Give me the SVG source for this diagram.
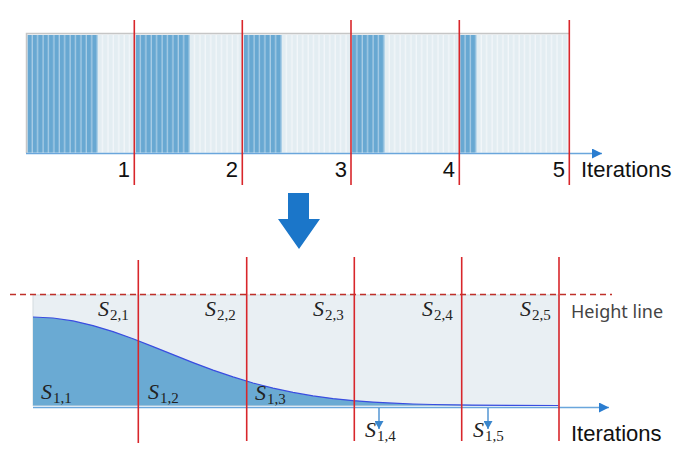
<svg xmlns="http://www.w3.org/2000/svg" width="673" height="452" viewBox="0 0 673 452">
<style>
.red{stroke:#d8262b;stroke-width:1.6;fill:none}
.axis{stroke:#6aa6dc;stroke-width:1.5;fill:none}
.num{font-family:"Liberation Sans",Arial,sans-serif;font-size:22px;fill:#111}
.s{font-family:"Liberation Serif","Times New Roman",serif;font-style:italic;font-size:22px;fill:#222}
.sub{font-style:normal;font-size:15px}
.lbl{font-family:"Noto Sans","Liberation Sans",sans-serif;font-size:18px;fill:#444}
</style>
<defs>
<pattern id="pd" patternUnits="userSpaceOnUse" x="27.5" y="0" width="5.41" height="452">
<rect x="0" y="0" width="4.1" height="452" fill="#68a8d2"/>
</pattern>
<pattern id="pl" patternUnits="userSpaceOnUse" x="27.5" y="0" width="5.41" height="452">
<rect x="0" y="0" width="4.1" height="452" fill="#e3edf2"/>
</pattern>
<marker id="ah" markerUnits="userSpaceOnUse" markerWidth="11" markerHeight="10" refX="10" refY="5" orient="auto">
<path d="M0,0 L10,5 L0,10 z" fill="#2a7dd0"/>
</marker>
<marker id="ahs" markerUnits="userSpaceOnUse" markerWidth="9" markerHeight="9" refX="8" refY="4.5" orient="auto">
<path d="M0,0 L8,4.5 L0,9 z" fill="#3a86cc"/>
</marker>
</defs>
<rect width="673" height="452" fill="#fff"/>

<g id="top-panel">
<rect x="26.5" y="33.5" width="542" height="119.5" fill="#f2f6f9"/>
<rect x="27.5" y="35" width="70.3" height="117.5" fill="#a9cde6"/>
<rect x="135.7" y="35" width="54.1" height="117.5" fill="#a9cde6"/>
<rect x="243.9" y="35" width="37.9" height="117.5" fill="#a9cde6"/>
<rect x="352.1" y="35" width="32.5" height="117.5" fill="#a9cde6"/>
<rect x="460.3" y="35" width="16.2" height="117.5" fill="#a9cde6"/>
<rect x="27.5" y="35" width="70.3" height="117.5" fill="url(#pd)"/>
<rect x="97.8" y="35" width="37.9" height="117.5" fill="url(#pl)"/>
<rect x="135.7" y="35" width="54.1" height="117.5" fill="url(#pd)"/>
<rect x="189.8" y="35" width="54.1" height="117.5" fill="url(#pl)"/>
<rect x="243.9" y="35" width="37.9" height="117.5" fill="url(#pd)"/>
<rect x="281.8" y="35" width="70.3" height="117.5" fill="url(#pl)"/>
<rect x="352.1" y="35" width="32.5" height="117.5" fill="url(#pd)"/>
<rect x="384.6" y="35" width="75.7" height="117.5" fill="url(#pl)"/>
<rect x="460.3" y="35" width="16.2" height="117.5" fill="url(#pd)"/>
<rect x="476.5" y="35" width="91.5" height="117.5" fill="url(#pl)"/>
<path d="M26.5,153 V33.5 H569" stroke="#c6c6c6" stroke-width="1.5" fill="none"/>
</g>

<g id="top-ticks">
<text class="num" x="130" y="177" text-anchor="end">1</text>
<text class="num" x="238" y="177" text-anchor="end">2</text>
<text class="num" x="347" y="177" text-anchor="end">3</text>
<text class="num" x="455" y="177" text-anchor="end">4</text>
<text class="num" x="565" y="177" text-anchor="end">5</text>
<text class="num" x="581" y="177">Iterations</text>
</g>

<g id="big-arrow">
<path d="M288,193 H309 V219 H320 L299,249 L278,219 H288 Z" fill="#1b76c9"/>
</g>

<g id="bottom-panel">
<rect x="33" y="295" width="526" height="110.5" fill="#e9eff3" stroke="#d3dbe0" stroke-width="1"/>
<path id="area" d="M33,317 L53,318 L73,320.9 L93,325.6 L113,331.6 L133,338.8 L153,346.6 L173,354.6 L193,362.6 L213,370.1 L233,376.9 L253,383 L273,388.1 L293,392.4 L313,395.9 L333,398.6 L353,400.6 L373,402.1 L393,403.2 L413,404 L433,404.5 L473,405.1 L513,405.4 L558,405.5 L33,405.5 Z" fill="#6aaad3"/>
<path d="M33,317 L53,318 L73,320.9 L93,325.6 L113,331.6 L133,338.8 L153,346.6 L173,354.6 L193,362.6 L213,370.1 L233,376.9 L253,383 L273,388.1 L293,392.4 L313,395.9 L333,398.6 L353,400.6 L373,402.1 L393,403.2 L413,404 L433,404.5 L473,405.1 L513,405.4 L558,405.5" fill="none" stroke="#3a4de0" stroke-width="1.2" stroke-linejoin="round"/>
</g>

<g id="labels">
<text class="s" x="98" y="316">S<tspan class="sub" dx="1" dy="4">2,1</tspan></text>
<text class="s" x="205" y="316">S<tspan class="sub" dx="1" dy="4">2,2</tspan></text>
<text class="s" x="313" y="316">S<tspan class="sub" dx="1" dy="4">2,3</tspan></text>
<text class="s" x="422" y="316">S<tspan class="sub" dx="1" dy="4">2,4</tspan></text>
<text class="s" x="520" y="316">S<tspan class="sub" dx="1" dy="4">2,5</tspan></text>
<text class="s" x="41" y="399">S<tspan class="sub" dx="1" dy="4">1,1</tspan></text>
<text class="s" x="148" y="399">S<tspan class="sub" dx="1" dy="4">1,2</tspan></text>
<text class="s" x="255" y="400">S<tspan class="sub" dx="1" dy="4">1,3</tspan></text>
<text class="s" x="365" y="437">S<tspan class="sub" dx="1" dy="4">1,4</tspan></text>
<text class="s" x="473" y="437">S<tspan class="sub" dx="1" dy="4">1,5</tspan></text>
<text class="lbl" x="571" y="318">Height line</text>
<text class="num" x="571" y="441">Iterations</text>
</g>

<g id="connectors">
<line class="axis" x1="26" y1="153.5" x2="602" y2="153.5" marker-end="url(#ah)"/>
<line class="axis" x1="33" y1="407.5" x2="609" y2="407.5" marker-end="url(#ah)"/>
<line x1="10" y1="294.5" x2="612" y2="294.5" stroke="#c0302a" stroke-width="1.5" stroke-dasharray="6,4"/>
<line x1="134.3" y1="20" x2="134.3" y2="185" class="red"/>
<line x1="242.3" y1="20" x2="242.3" y2="185" class="red"/>
<line x1="351" y1="20" x2="351" y2="185" class="red"/>
<line x1="459.3" y1="20" x2="459.3" y2="185" class="red"/>
<line x1="569.3" y1="20" x2="569.3" y2="185" class="red"/>
<line x1="138.3" y1="260" x2="138.3" y2="443" class="red"/>
<line x1="246.7" y1="257" x2="246.7" y2="441" class="red"/>
<line x1="354.3" y1="257" x2="354.3" y2="441" class="red"/>
<line x1="461.7" y1="257" x2="461.7" y2="441" class="red"/>
<line x1="559" y1="257" x2="559" y2="441" class="red"/>
<line x1="379" y1="408" x2="379" y2="429" stroke="#3a86cc" stroke-width="1.3" marker-end="url(#ahs)"/>
<line x1="488" y1="408" x2="488" y2="429" stroke="#3a86cc" stroke-width="1.3" marker-end="url(#ahs)"/>
</g>
</svg>
